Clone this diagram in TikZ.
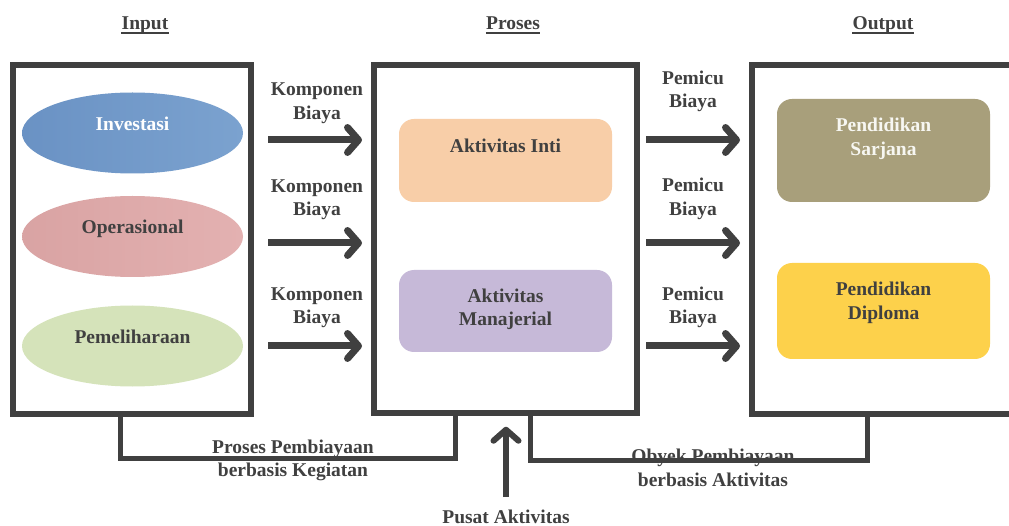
\documentclass[tikz,border=0pt]{standalone}
\usepackage{fontspec}
\setmainfont{Liberation Serif}
\usetikzlibrary{arrows.meta,shapes.geometric}

\definecolor{ink}{HTML}{404040}
\definecolor{invblue}{HTML}{7BA2CF}
\definecolor{invblueL}{HTML}{6A92C4}
\definecolor{oppink}{HTML}{E3B1B1}
\definecolor{oppinkL}{HTML}{D9A3A3}
\definecolor{pmgreen}{HTML}{D5E3BA}
\definecolor{aipeach}{HTML}{F8CEA8}
\definecolor{amlav}{HTML}{C6B9D8}
\definecolor{psolive}{HTML}{A89F7B}
\definecolor{pdyellow}{HTML}{FDD14B}
\definecolor{paletext}{HTML}{F7F7F2}

\begin{document}
\begin{tikzpicture}[x=1pt,y=-1pt,
  every node/.style={font=\bfseries\fontsize{19.5}{23.5}\selectfont, text=ink},
  hdr/.style={inner sep=0pt, anchor=base},
  uline/.style={draw=ink, line width=2.2pt},
  frame/.style={draw=ink, line width=5.5pt, fill=white, inner sep=0pt},
  oval/.style={ellipse, minimum width=221pt, minimum height=81pt, inner sep=0pt},
  card/.style={rounded corners=15pt, minimum width=213pt, inner sep=0pt},
  lbl/.style={align=center, inner sep=0pt},
  fatarrow/.style={draw=ink, line width=7pt,
    -{Straight Barb[length=11pt,width=25pt,line cap=round,line join=round]}},
  bracket/.style={draw=ink, line width=5pt}
]
\clip (0,0) rectangle (1009,526);
\fill[white] (0,0) rectangle (1009,526);

% column headings
\node[hdr] (hin)  at (145,30) {Input};
\node[hdr] (hpr)  at (513,30) {Proses};
\node[hdr] (hout) at (883,30) {Output};
\foreach \h in {hin,hpr,hout}
  \draw[uline] ([yshift=-2.8pt]\h.base west) -- ([yshift=-2.8pt]\h.base east);

% the three frames
\node[frame, minimum width=238pt, minimum height=349pt] (lbox) at (132,239.5) {};
\node[frame, minimum width=263pt, minimum height=348pt] (mbox) at (505.5,239) {};
\node[frame, minimum width=278pt, minimum height=349pt] (rbox) at (891,239.5) {};

% input ovals
\node[oval, left color=invblueL, right color=invblue] (inv) at (132.5,133)
  {\raisebox{18pt}{\textcolor{white}{Investasi}}};
\node[oval, left color=oppinkL, right color=oppink] (ops) at (132.5,236.5)
  {\raisebox{19pt}{Operasional}};
\node[oval, fill=pmgreen] (pml) at (132.5,346)
  {\raisebox{18.5pt}{Pemeliharaan}};

% process cards
\node[card, fill=aipeach, minimum height=83pt] (ai) at (505.5,160.5) {};
\node[lbl] (ait) at (505.5,145.5) {Aktivitas Inti};
\node[card, fill=amlav, minimum height=82pt] (am) at (505.5,311) {};
\node[lbl] (amt) at (505.5,309.5) {Aktivitas\\Manajerial};

% output cards
\node[card, fill=psolive, minimum height=103pt] (ps) at (883.5,150.5) {};
\node[lbl, text=paletext] (pst) at (883.5,139) {Pendidikan\\Sarjana};
\node[card, fill=pdyellow, minimum height=96pt] (pd) at (883.5,311) {};
\node[lbl] (pdt) at (883.5,303) {Pendidikan\\Diploma};

% arrow labels
\node[lbl] (kb1) at (317,103) {Komponen\\Biaya};
\node[lbl] (kb2) at (317,199.5) {Komponen\\Biaya};
\node[lbl] (kb3) at (317,307.5) {Komponen\\Biaya};
\node[lbl] (pb1) at (693,91.5) {Pemicu\\Biaya};
\node[lbl] (pb2) at (693,199) {Pemicu\\Biaya};
\node[lbl] (pb3) at (693,307.5) {Pemicu\\Biaya};

% arrow end points
\coordinate (la1) at (268,140); \coordinate (lb1) at (362,140);
\coordinate (la2) at (268,243); \coordinate (lb2) at (362,243);
\coordinate (la3) at (268,346); \coordinate (lb3) at (362,346);
\coordinate (ra1) at (646,140); \coordinate (rb1) at (740,140);
\coordinate (ra2) at (646,243); \coordinate (rb2) at (740,243);
\coordinate (ra3) at (646,346); \coordinate (rb3) at (740,346);
\foreach \i in {1,2,3}{
  \draw[fatarrow] (la\i) -- (lb\i);
  \draw[fatarrow] (ra\i) -- (rb\i);
}

% captions below the frames
\node[lbl] (pp) at (293,460.5) {Proses Pembiayaan\\berbasis Kegiatan};
\node[lbl] (op) at (713,468) {Obyek Pembiayaan\\berbasis Aktivitas};
\node[hdr] (pa) at (506,523) {Pusat Aktivitas};

% brackets joining the frames
\draw[bracket] ([xshift=-11.5pt]lbox.south) -- ++(0,42) -| ([xshift=-50pt]mbox.south);
\draw[bracket] ([xshift=25pt]mbox.south) -- ++(0,45) -| ([xshift=-24pt]rbox.south);

% activity centre arrow
\coordinate (pusat) at (506,497);
\draw[fatarrow, line width=6pt] (pusat) -- ([yshift=-11pt]mbox.south -| pusat);
\end{tikzpicture}
\end{document}
